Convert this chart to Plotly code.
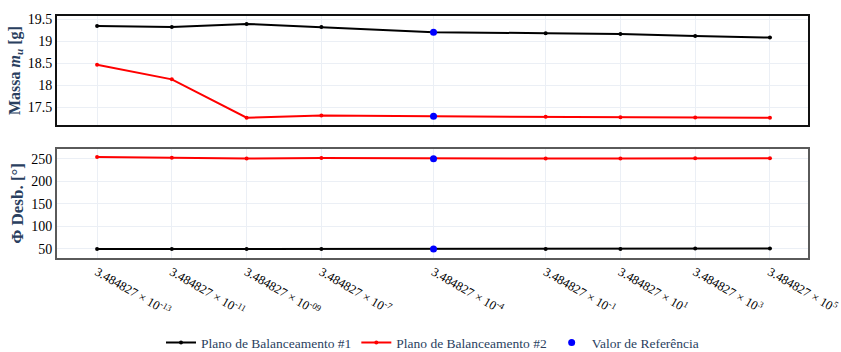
import plotly.graph_objects as go
from plotly.subplots import make_subplots

# Perturbation values (log-scaled x axis) and their tick labels
exponents = [-13, -11, -9, -7, -4, -1, 1, 3, 5]
x_vals = [3.484827 * 10.0 ** e for e in exponents]
tick_text = [
    "3.484827 × 10<sup>-13</sup>",
    "3.484827 × 10<sup>-11</sup>",
    "3.484827 × 10<sup>-09</sup>",
    "3.484827 × 10<sup>-7</sup>",
    "3.484827 × 10<sup>-4</sup>",
    "3.484827 × 10<sup>-1</sup>",
    "3.484827 × 10<sup>1</sup>",
    "3.484827 × 10<sup>3</sup>",
    "3.484827 × 10<sup>5</sup>",
]

# Unbalance mass [g]
mass_plane1 = [19.35, 19.33, 19.40, 19.33, 19.21, 19.19, 19.17, 19.125, 19.09]
mass_plane2 = [18.47, 18.14, 17.27, 17.32, 17.30, 17.29, 17.28, 17.275, 17.27]

# Unbalance phase [deg]
phase_plane1 = [49.5, 49.5, 49.5, 49.3, 49.5, 49.5, 49.6, 50.4, 50.5]
phase_plane2 = [253.7, 252.2, 250.6, 251.5, 250.3, 250.5, 250.4, 251.0, 251.0]

# Reference solution
ref_x = [3.484827e-4, 3.484827e-4]
ref_mass = [19.21, 17.30]
ref_phase = [250.3, 49.5]

serif = "Liberation Serif, Times New Roman, serif"
title_color = "#2a3f5f"

fig = make_subplots(rows=2, cols=1, shared_xaxes=True, vertical_spacing=0.098)

fig.add_trace(go.Scatter(x=x_vals, y=mass_plane1, mode="lines+markers",
                         name="Plano de Balanceamento #1",
                         line=dict(color="black", width=2),
                         marker=dict(color="black", size=4),
                         legendgroup="p1"), row=1, col=1)
fig.add_trace(go.Scatter(x=x_vals, y=mass_plane2, mode="lines+markers",
                         name="Plano de Balanceamento #2",
                         line=dict(color="red", width=2),
                         marker=dict(color="red", size=4),
                         legendgroup="p2"), row=1, col=1)
fig.add_trace(go.Scatter(x=ref_x, y=ref_mass, mode="markers",
                         name="Valor de Referência",
                         marker=dict(color="blue", size=7),
                         legendgroup="ref"), row=1, col=1)

fig.add_trace(go.Scatter(x=x_vals, y=phase_plane1, mode="lines+markers",
                         line=dict(color="black", width=2),
                         marker=dict(color="black", size=4),
                         legendgroup="p1", showlegend=False), row=2, col=1)
fig.add_trace(go.Scatter(x=x_vals, y=phase_plane2, mode="lines+markers",
                         line=dict(color="red", width=2),
                         marker=dict(color="red", size=4),
                         legendgroup="p2", showlegend=False), row=2, col=1)
fig.add_trace(go.Scatter(x=ref_x, y=ref_phase, mode="markers",
                         marker=dict(color="blue", size=7),
                         legendgroup="ref", showlegend=False), row=2, col=1)

axis_common = dict(showline=True, mirror=True, linewidth=2,
                   gridcolor="#ebeff5", zeroline=False, ticks="",
                   tickfont=dict(family=serif, size=14, color="black"))

fig.update_xaxes(type="log", range=[-13.53, 6.56], tickvals=x_vals,
                 ticktext=tick_text, automargin=False, ticklabeloverflow="allow",
                 **axis_common)
fig.update_xaxes(linecolor="#111", row=1, col=1)
fig.update_xaxes(linecolor="#5a5a5a", tickangle=30,
                 tickfont=dict(family=serif, size=12.5, color="black"),
                 row=2, col=1)

fig.update_yaxes(automargin=True, **axis_common)
fig.update_yaxes(range=[17.10, 19.58], tickvals=[17.5, 18, 18.5, 19, 19.5],
                 ticktext=["17.5", "18", "18.5", "19", "19.5"], linecolor="#111",
                 title=dict(text="<b>Massa <i>m<sub>u</sub></i> [g]</b>",
                            font=dict(family=serif, size=16, color=title_color),
                            standoff=3),
                 row=1, col=1)
fig.update_yaxes(range=[29.5, 272], tickvals=[50, 100, 150, 200, 250],
                 linecolor="#5a5a5a",
                 title=dict(text="<b>Φ Desb. [°]</b>",
                            font=dict(family=serif, size=17, color=title_color),
                            standoff=3),
                 row=2, col=1)

fig.update_layout(
    width=841, height=352,
    margin=dict(l=57, r=33, t=12, b=94),
    plot_bgcolor="white", paper_bgcolor="white",
    legend=dict(orientation="h", x=0.5, xanchor="center",
                yref="container", y=0.026, yanchor="middle",
                font=dict(family=serif, size=13.5, color=title_color),
                bgcolor="rgba(0,0,0,0)"),
)

fig.write_html("out.html")
